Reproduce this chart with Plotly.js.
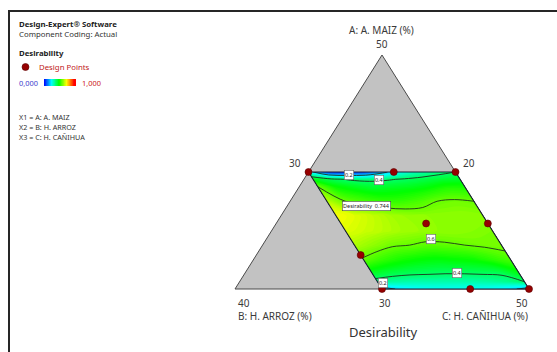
<!DOCTYPE html>
<html>
<head>
<meta charset="utf-8">
<script src="https://cdn.plot.ly/plotly-3.0.1.min.js"></script>
<style>
  html, body { margin: 0; padding: 0; background: #fff; }
  #chart { width: 557px; height: 352px; }
</style>
</head>
<body>
<div id="chart"></div>
<script>
// Mixture: A = A. MAIZ, B = H. ARROZ, C = H. CAÑIHUA (percent, total 100)
const A_LEVELS = [30, 30.625, 31.25, 32.5, 33.75, 35, 36.25, 37.5, 38.75, 39.375, 40];
const B_LEVELS = [20, 21.25, 22.5, 23.75, 25, 26.25, 27.5, 28.75, 30];

// Desirability over the constrained region; rows follow A_LEVELS, columns B_LEVELS
const DESIRABILITY = [
  [0.16, 0.22, 0.25, 0.26, 0.26, 0.26, 0.25, 0.22, 0.15],
  [0.40, 0.36, 0.34, 0.33, 0.33, 0.33, 0.33, 0.34, 0.36],
  [0.47, 0.405, 0.40, 0.395, 0.395, 0.40, 0.405, 0.42, 0.45],
  [0.57, 0.54, 0.51, 0.50, 0.49, 0.50, 0.52, 0.55, 0.59],
  [0.62, 0.61, 0.60, 0.59, 0.585, 0.60, 0.61, 0.64, 0.67],
  [0.62, 0.63, 0.64, 0.64, 0.65, 0.66, 0.68, 0.70, 0.72],
  [0.635, 0.64, 0.64, 0.64, 0.645, 0.66, 0.69, 0.72, 0.744],
  [0.60, 0.61, 0.60, 0.57, 0.55, 0.55, 0.57, 0.60, 0.68],
  [0.52, 0.52, 0.49, 0.47, 0.46, 0.45, 0.47, 0.50, 0.60],
  [0.46, 0.45, 0.43, 0.41, 0.39, 0.38, 0.39, 0.42, 0.48],
  [0.40, 0.37, 0.33, 0.27, 0.17, 0.06, 0.03, 0.05, 0.25]
];

// Design points (A %, B %; C = 100 - A - B)
const POINTS_A = [40, 40, 40, 35.6, 35.6, 32.9, 30, 30, 30];
const POINTS_B = [30, 24.2, 20, 24.2, 20, 30, 30, 24, 20];

const CONTOUR_LEVELS = [0.2, 0.4, 0.6];

// Simplex bounds
const A_MIN = 30, B_MIN = 20, C_MIN = 30, RANGE = 20, TOTAL = 100;

// ternary (A, B) -> cartesian, B vertex at (0,0), C vertex at (1,0), A apex at (0.5,1)
function toXY(A, B) {
  const C = TOTAL - A - B;
  const a = (A - A_MIN) / RANGE;
  const c = (C - C_MIN) / RANGE;
  return [c + a / 2, a];
}

const FONT = 'Noto Sans, Open Sans, sans-serif';
const W = 557, H = 352;
const px = v => v / W;
const py = v => 1 - v / H;

// carpet grid
const gx = A_LEVELS.map(A => B_LEVELS.map(B => toXY(A, B)[0]));
const gy = A_LEVELS.map(A => B_LEVELS.map(B => toXY(A, B)[1]));

// outer simplex as an svg path in data units
const triA = [A_MIN + RANGE, A_MIN, A_MIN];
const triB = [B_MIN, B_MIN + RANGE, B_MIN];
const triPath = triA.map((A, i) => {
  const p = toXY(A, triB[i]);
  return (i ? 'L' : 'M') + p[0] + ',' + p[1];
}).join(' ') + ' Z';

// constrained region outline
const regA = [40, 40, 30, 30, 40];
const regB = [30, 20, 20, 30, 30];
const reg = regA.map((A, i) => toXY(A, regB[i]));

const pts = POINTS_A.map((A, i) => toXY(A, POINTS_B[i]));

// optimum location from the grid
let best = {v: -1, A: 0, B: 0};
DESIRABILITY.forEach((row, i) => row.forEach((v, j) => {
  if (v > best.v) best = {v: v, A: A_LEVELS[i], B: B_LEVELS[j]};
}));
const bestXY = toXY(best.A, best.B);

const colorscale = [
  [0, '#0000ff'], [0.25, '#00ffff'], [0.5, '#00ff00'], [0.75, '#ffff00'], [1, '#ff0000']
];

const hiddenCarpetAxis = {
  showgrid: false, showline: false, startline: false, endline: false,
  showticklabels: 'none', minorgridcount: 0
};

const data = [
  {
    type: 'carpet', carpet: 'mix',
    a: B_LEVELS, b: A_LEVELS, x: gx, y: gy,
    aaxis: hiddenCarpetAxis, baxis: hiddenCarpetAxis
  },
  {
    type: 'contourcarpet', carpet: 'mix',
    a: B_LEVELS, b: A_LEVELS, z: DESIRABILITY,
    autocontour: false,
    contours: {start: 0, end: 1, size: 0.01, coloring: 'fill', showlines: false},
    line: {width: 0, smoothing: 1},
    colorscale: colorscale, zmin: 0, zmax: 1, zauto: false,
    showscale: true,
    colorbar: {
      orientation: 'h', xref: 'paper', yref: 'paper',
      x: px(44), xanchor: 'left', y: py(86), yanchor: 'bottom',
      len: 30, lenmode: 'pixels', thickness: 7, thicknessmode: 'pixels',
      xpad: 0, ypad: 0, outlinewidth: 0, showticklabels: false, ticks: ''
    },
    hoverinfo: 'skip'
  },
  {
    type: 'contourcarpet', carpet: 'mix',
    a: B_LEVELS, b: A_LEVELS, z: DESIRABILITY,
    autocontour: false,
    contours: {
      start: CONTOUR_LEVELS[0], end: CONTOUR_LEVELS[CONTOUR_LEVELS.length - 1],
      size: CONTOUR_LEVELS[1] - CONTOUR_LEVELS[0], coloring: 'none'
    },
    line: {color: '#1d321d', width: 0.9, smoothing: 1},
    showscale: false, hoverinfo: 'skip'
  },
  {
    type: 'scatter', mode: 'lines',
    x: reg.map(p => p[0]), y: reg.map(p => p[1]),
    line: {color: '#1c1c30', width: 1.1},
    hoverinfo: 'skip', showlegend: false
  },
  {
    type: 'scatter', mode: 'markers',
    x: pts.map(p => p[0]), y: pts.map(p => p[1]),
    marker: {size: 7, color: '#960000', line: {color: '#5a0000', width: 0.6}},
    cliponaxis: false, hoverinfo: 'skip', showlegend: false
  }
];

function txt(text, x, y, opts) {
  return Object.assign({
    text: text, xref: 'paper', yref: 'paper', x: px(x), y: py(y),
    xanchor: 'center', yanchor: 'middle', showarrow: false,
    font: {family: FONT, size: 10, color: '#3a3a3a'}
  }, opts || {});
}

// contour level tags (level, A, B)
const levelTags = [
  [CONTOUR_LEVELS[0], 39.74, 27.38],
  [CONTOUR_LEVELS[1], 39.32, 25.54],
  [CONTOUR_LEVELS[2], 34.27, 24.53],
  [CONTOUR_LEVELS[1], 31.37, 24.21],
  [CONTOUR_LEVELS[0], 30.51, 29.68]
];

const annotations = [
  txt('<b>Design-Expert® Software</b>', 17, 24, {xanchor: 'left', font: {family: FONT, size: 7.8, color: '#222'}}),
  txt('Component Coding: Actual', 17, 33.5, {xanchor: 'left', font: {family: FONT, size: 7.8, color: '#333'}}),
  txt('<b>Desirability</b>', 17, 53, {xanchor: 'left', font: {family: FONT, size: 7.8, color: '#222'}}),
  txt('Design Points', 37, 67, {xanchor: 'left', font: {family: FONT, size: 7.8, color: '#c01818'}}),
  txt('0,000', 17, 83, {xanchor: 'left', font: {family: FONT, size: 7.4, color: '#3c3ccc'}}),
  txt('1,000', 80, 83, {xanchor: 'left', font: {family: FONT, size: 7.4, color: '#cc2020'}}),
  txt('X1 = A: A. MAIZ', 17, 117, {xanchor: 'left', font: {family: FONT, size: 7.2, color: '#333'}}),
  txt('X2 = B: H. ARROZ', 17, 127, {xanchor: 'left', font: {family: FONT, size: 7.2, color: '#333'}}),
  txt('X3 = C: H. CAÑIHUA', 17, 137, {xanchor: 'left', font: {family: FONT, size: 7.2, color: '#333'}}),

  txt('A: A. MAIZ (%)', 382, 30),
  txt(String(A_MIN + RANGE), 382, 44),
  txt('30', 295, 163),
  txt('20', 469, 163),
  txt(String(B_MIN + RANGE), 236, 303, {xanchor: 'left'}),
  txt('30', 385, 303),
  txt(String(C_MIN + RANGE), 530, 303, {xanchor: 'right'}),
  txt('B: H. ARROZ (%)', 236, 316, {xanchor: 'left'}),
  txt('C: H. CAÑIHUA (%)', 530, 316, {xanchor: 'right'}),
  txt('Desirability', 383, 332, {font: {family: FONT, size: 13, color: '#333'}}),

  {
    text: 'Desirability  ' + best.v.toFixed(3),
    xref: 'x', yref: 'y', x: bestXY[0], y: bestXY[1],
    xanchor: 'left', yanchor: 'bottom', xshift: 6, yshift: 5,
    showarrow: false, bgcolor: '#ffffff', bordercolor: '#444', borderwidth: 0.6, borderpad: 0.5,
    font: {family: FONT, size: 5.5, color: '#222'}
  }
].concat(levelTags.map(t => {
  const p = toXY(t[1], t[2]);
  return {
    text: t[0].toFixed(1), xref: 'x', yref: 'y', x: p[0], y: p[1],
    showarrow: false, bgcolor: '#ffffff', bordercolor: '#666', borderwidth: 0.6, borderpad: 0.3,
    font: {family: FONT, size: 5.5, color: '#222'}
  };
}));

const layout = {
  width: W, height: H,
  margin: {l: 0, r: 0, t: 0, b: 0, pad: 0},
  paper_bgcolor: '#ffffff', plot_bgcolor: '#ffffff',
  showlegend: false,
  xaxis: {range: [-235 / 294, (W - 235) / 294], visible: false, fixedrange: true},
  yaxis: {range: [(289 - H) / 234, 289 / 234], visible: false, fixedrange: true},
  annotations: annotations,
  shapes: [
    {type: 'path', xref: 'x', yref: 'y', path: triPath, layer: 'below',
     fillcolor: '#c2c2c2', line: {color: '#4a4a4a', width: 1}},
    {type: 'rect', xref: 'paper', yref: 'paper', x0: px(9), x1: 1.05, y0: -0.05, y1: py(11),
     line: {color: '#262626', width: 2}, fillcolor: 'rgba(0,0,0,0)'},
    {type: 'circle', xref: 'paper', yref: 'paper', x0: px(22), x1: px(29), y0: py(70.5), y1: py(63.5),
     fillcolor: '#960000', line: {color: '#5a0000', width: 0.6}}
  ]
};

Plotly.newPlot('chart', data, layout, {staticPlot: true, displayModeBar: false});
</script>
</body>
</html>
